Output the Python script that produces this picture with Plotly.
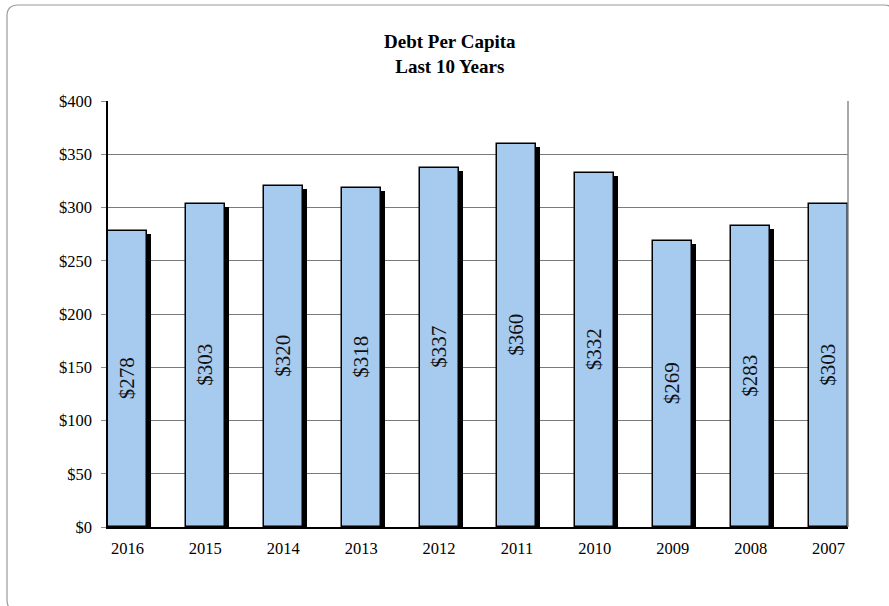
import plotly.graph_objects as go

# Debt per capita, most recent year first
years = ["2016", "2015", "2014", "2013", "2012", "2011", "2010", "2009", "2008", "2007"]
debt = [278, 303, 320, 318, 337, 360, 332, 269, 283, 303]
y_ticks = [0, 50, 100, 150, 200, 250, 300, 350, 400]
y_tick_labels = [f"${t}" for t in y_ticks]

W, H = 889, 606
L, R, T, B = 108, 41, 101, 79          # plot-area margins (px)
PW, PH = W - L - R, H - T - B

def px_x(px):
    return (px - L) / PW

def px_y(py):
    return (H - B - py) / PH

pos = list(range(len(years)))
bar_w = 0.5
x_lo, x_hi = -0.25, len(years) - 0.75
units_per_px_x = (x_hi - x_lo) / PW
units_per_px_y = 400 / PH

fig = go.Figure()

# drop shadow behind each column
fig.add_trace(go.Bar(
    x=[p + 4 * units_per_px_x for p in pos],
    y=[v - 3 * units_per_px_y for v in debt],
    width=bar_w,
    marker=dict(color="black", line=dict(width=0)),
    hoverinfo="skip",
    showlegend=False,
))

# the columns themselves
fig.add_trace(go.Bar(
    x=pos,
    y=debt,
    width=bar_w,
    marker=dict(color="#A7CAEF", line=dict(color="black", width=1.5)),
    text=[f"${v}" for v in debt],
    textposition="inside",
    insidetextanchor="middle",
    textangle=-90,
    constraintext="none",
    textfont=dict(family="Liberation Serif", size=21, color="#111111"),
    hovertemplate="%{customdata}: $%{y}<extra></extra>",
    customdata=years,
    showlegend=False,
))

# rounded frame around the whole chart (runs past the right/bottom edges)
x0, y0, x1, y1, r = 7, 5, 895, 611, 11
fx0, fx1 = px_x(x0), px_x(x1)
fy0, fy1 = px_y(y0), px_y(y1)
rx, ry = r / PW, r / PH
frame = (f"M {fx0},{fy0 - ry} Q {fx0},{fy0} {fx0 + rx},{fy0} "
         f"L {fx1 - rx},{fy0} Q {fx1},{fy0} {fx1},{fy0 - ry} "
         f"L {fx1},{fy1 + ry} Q {fx1},{fy1} {fx1 - rx},{fy1} "
         f"L {fx0 + rx},{fy1} Q {fx0},{fy1} {fx0},{fy1 + ry} Z")

shapes = [
    dict(type="path", path=frame, xref="paper", yref="paper",
         line=dict(color="#9a9a9a", width=1.2), layer="below"),
    # right edge of the plot area
    dict(type="line", xref="paper", yref="paper", x0=1, x1=1, y0=0, y1=1,
         line=dict(color="#8c8c8c", width=1.5)),
]

fig.update_layout(
    width=W, height=H,
    margin=dict(l=L, r=R, t=T, b=B),
    paper_bgcolor="white",
    plot_bgcolor="white",
    barmode="overlay",
    bargap=0,
    shapes=shapes,
    font=dict(family="Liberation Serif", color="black"),
    annotations=[dict(
        text="<b>Debt Per Capita</b><br><b>Last 10 Years</b>",
        xref="paper", yref="paper",
        x=px_x(450), y=px_y(54),
        xanchor="center", yanchor="middle",
        showarrow=False,
        font=dict(family="Liberation Serif", size=19, color="black"),
    )],
)

fig.update_xaxes(
    range=[x_lo, x_hi],
    tickmode="array", tickvals=pos, ticktext=years,
    showgrid=False, zeroline=False,
    showline=True, linecolor="black", linewidth=1.6,
    ticks="", ticklabelstandoff=5,
    tickfont=dict(family="Liberation Serif", size=16.5, color="black"),
    fixedrange=True,
)

fig.update_yaxes(
    range=[0, 400],
    tickmode="array", tickvals=y_ticks, ticktext=y_tick_labels,
    showgrid=True, gridcolor="#7a7a7a", gridwidth=1.2,
    zeroline=False,
    showline=True, linecolor="black", linewidth=1.6,
    ticks="outside", ticklen=5, tickcolor="#8c8c8c", tickwidth=1.2,
    ticklabelstandoff=6,
    tickfont=dict(family="Liberation Serif", size=16.5, color="black"),
    fixedrange=True,
)

fig.write_html("out.html")
